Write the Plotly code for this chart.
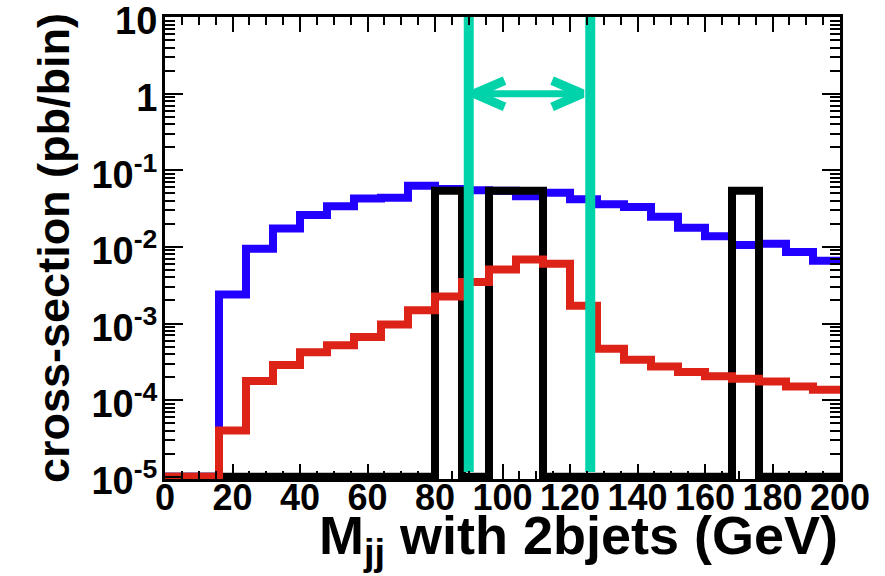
import numpy as np
import plotly.graph_objects as go

# ---------------- data ----------------
BIN_EDGES = list(range(0, 201, 8))  # 25 bins of 8 GeV

blue_values = [0, 0, 2.4e-3, 9.5e-3, 1.74e-2, 2.62e-2, 3.4e-2, 4.3e-2, 4.4e-2,
               6.3e-2, 5.7e-2, 5.5e-2, 5.4e-2, 4.6e-2, 5.1e-2, 4.2e-2, 3.6e-2,
               3.33e-2, 2.48e-2, 1.78e-2, 1.38e-2, 1.06e-2, 1.1e-2, 8.6e-3, 6.6e-3]

red_values = [0, 0, 4.0e-5, 1.77e-4, 2.87e-4, 4.23e-4, 5.2e-4, 6.67e-4, 9.7e-4,
              1.49e-3, 2.26e-3, 3.48e-3, 5.08e-3, 6.83e-3, 6.05e-3, 1.71e-3, 4.69e-4,
              3.36e-4, 2.75e-4, 2.32e-4, 2.05e-4, 1.9e-4, 1.75e-4, 1.5e-4, 1.37e-4]

black_values = [0, 0, 0, 0, 0, 0, 0, 0, 0, 0, 0.054, 0, 0.054, 0.054, 0, 0, 0,
                0, 0, 0, 0, 0.054, 0, 0, 0]

MASS_WINDOW = [90, 126]       # GeV, the vertical lines
ARROW_LEVEL = 1.0             # y value of the double arrow

x_tick_vals = list(range(0, 201, 20))
x_tick_text = [str(v) for v in x_tick_vals]
y_tick_vals = [1e1, 1e0, 1e-1, 1e-2, 1e-3, 1e-4, 1e-5]
y_tick_text = ["10", "1", "10<sup>-1</sup>", "10<sup>-2</sup>", "10<sup>-3</sup>",
               "10<sup>-4</sup>", "10<sup>-5</sup>"]

YMIN, YMAX = 1e-5, 10.0

# ---------------- styles ----------------
FONT = "Liberation Sans, Arial, Helvetica, sans-serif"
BLUE = "#2200FF"
RED = "#DD2218"
BLACK = "#000000"
GREEN = "#00D2AA"


def step_xy(values):
    """histogram outline: values clipped to the axis minimum like ROOT does"""
    v = [max(val, YMIN) for val in values]
    xs = BIN_EDGES[:]
    ys = v + [v[-1]]
    return xs, ys


fig = go.Figure()

for vals, col in [(blue_values, BLUE), (black_values, BLACK), (red_values, RED)]:
    xs, ys = step_xy(vals)
    fig.add_trace(go.Scatter(x=xs, y=ys, mode="lines", line=dict(color=col, width=8, shape="hv"),
                             hoverinfo="skip", showlegend=False))

# mass-window lines
for xv in MASS_WINDOW:
    fig.add_trace(go.Scatter(x=[xv, xv], y=[1.15e-5, YMAX * 1.2], mode="lines",
                             line=dict(color=GREEN, width=10), showlegend=False,
                             hoverinfo="skip"))

# double arrow between the lines
lo, hi = MASS_WINDOW[0] + 1.6, MASS_WINDOW[1] - 2.3
fig.add_trace(go.Scatter(x=[lo, hi], y=[ARROW_LEVEL, ARROW_LEVEL], mode="lines",
                         line=dict(color=GREEN, width=7), showlegend=False, hoverinfo="skip"))
head_dx = 9.0
head_f = 1.48
for tip, sgn in [(lo, 1), (hi, -1)]:
    fig.add_trace(go.Scatter(x=[tip + sgn * head_dx, tip, tip + sgn * head_dx],
                             y=[ARROW_LEVEL * head_f, ARROW_LEVEL, ARROW_LEVEL / head_f],
                             mode="lines", line=dict(color=GREEN, width=9),
                             showlegend=False, hoverinfo="skip"))

xtickfont = dict(family=FONT, size=36, color="black", weight="bold")
ytickfont = dict(family=FONT, size=38, color="black", weight="bold")

fig.update_layout(
    width=885, height=576,
    margin=dict(l=165, r=45, t=17, b=97),
    paper_bgcolor="white", plot_bgcolor="white",
    showlegend=False,
    xaxis=dict(range=[0, 200], tickmode="array", tickvals=x_tick_vals, ticktext=x_tick_text,
               ticks="inside", ticklen=15, tickwidth=2, tickcolor="black",
               showline=True, linewidth=3, linecolor="black", mirror="ticks",
               showgrid=False, zeroline=False, tickfont=xtickfont, ticklabelstandoff=-15,
               ticklabeloverflow="allow", automargin=False,
               minor=dict(dtick=5, ticks="inside", ticklen=8, tickwidth=1.5, tickcolor="black",
                          showgrid=False)),
    yaxis=dict(type="log", range=[np.log10(YMIN) - 0.03, np.log10(YMAX) + 0.002],
               tickmode="array", tickvals=y_tick_vals, ticktext=y_tick_text,
               ticks="inside", ticklen=18, tickwidth=2, tickcolor="black",
               showline=True, linewidth=3, linecolor="black", mirror="ticks",
               showgrid=False, zeroline=False, tickfont=ytickfont, ticklabelstandoff=-3,
               ticklabelshift=4, ticklabeloverflow="allow", automargin=False,
               minor=dict(dtick="D1", ticks="inside", ticklen=10, tickwidth=1.5,
                          tickcolor="black", showgrid=False)),
    annotations=[
        dict(text="cross-section (pb/bin)", textangle=-90, xref="paper", yref="paper",
             x=0, y=0.5, xanchor="center", yanchor="middle", xshift=-112, showarrow=False,
             font=dict(family=FONT, size=45, color="black", weight="bold")),
        dict(text="M<sub>jj</sub> with 2bjets (GeV)", xref="paper", yref="paper",
             x=1, y=0, xanchor="right", yanchor="top", yshift=-24, showarrow=False,
             font=dict(family=FONT, size=54, color="black", weight="bold")),
    ],
)

fig.write_html("out.html")
